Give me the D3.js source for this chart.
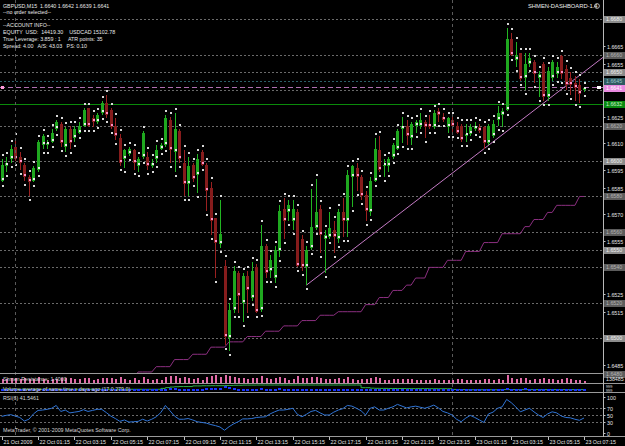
<!DOCTYPE html>
<html><head><meta charset="utf-8">
<script src="https://cdn.jsdelivr.net/npm/d3@7"></script>
<style>html,body{margin:0;padding:0;background:#000;overflow:hidden}svg{display:block}text{font-family:"Liberation Sans",Arial,sans-serif}</style>
</head><body><svg id="c" width="625" height="446"></svg>
<script>
// ---------- DATA ----------
const openP=[1.6589,1.6597,1.6601,1.6608,1.6602,1.6598,1.6591,1.6589,1.6595,1.6609,
1.6609,1.6611,1.6618,1.6621,1.6608,1.6618,1.6613,1.6616,1.6620,1.6630,
1.6624,1.6622,1.6627,1.6633,1.6629,1.6620,1.6613,1.6601,1.6604,1.6606,
1.6597,1.6602,1.6602,1.6597,1.6601,1.6607,1.6609,1.6623,1.6605,1.6617,
1.6599,1.6587,1.6598,1.6592,1.6605,1.6598,1.6585,1.6568,1.6553,1.6541,
1.6500,1.6516,1.6537,1.6520,1.6535,1.6523,1.6540,1.6516,1.6552,1.6538,
1.6534,1.6549,1.6573,1.6571,1.6566,1.6571,1.6556,1.6540,1.6551,1.6562,
1.6573,1.6556,1.6557,1.6561,1.6556,1.6571,1.6566,1.6591,1.6596,1.6591,
1.6581,1.6571,1.6589,1.6606,1.6597,1.6597,1.6602,1.6607,1.6618,1.6620,
1.6613,1.6620,1.6620,1.6622,1.6621,1.6619,1.6628,1.6625,1.6619,1.6623,
1.6620,1.6620,1.6614,1.6615,1.6618,1.6619,1.6619,1.6610,1.6614,1.6623,
1.6626,1.6629,1.6669,1.6657,1.6661,1.6647,1.6655,1.6656,1.6647,1.6655,
1.6636,1.6647,1.6649,1.6659,1.6652,1.6647,1.6644,1.6643,1.6640];
const highP=[1.6601,1.6602,1.6609,1.6613,1.6605,1.6599,1.6592,1.6597,1.6612,1.6615,
1.6612,1.6618,1.6623,1.6622,1.6619,1.6620,1.6620,1.6622,1.6630,1.6630,
1.6626,1.6627,1.6634,1.6637,1.6630,1.6624,1.6615,1.6607,1.6608,1.6607,
1.6602,1.6617,1.6605,1.6601,1.6609,1.6610,1.6626,1.6625,1.6627,1.6618,
1.6606,1.6602,1.6599,1.6604,1.6606,1.6599,1.6588,1.6568,1.6578,1.6544,
1.6520,1.6541,1.6538,1.6537,1.6538,1.6543,1.6542,1.6564,1.6553,1.6547,
1.6552,1.6575,1.6579,1.6578,1.6578,1.6573,1.6558,1.6552,1.6584,1.6590,
1.6575,1.6561,1.6571,1.6566,1.6573,1.6579,1.6595,1.6598,1.6599,1.6592,
1.6583,1.6591,1.6613,1.6614,1.6601,1.6602,1.6610,1.6618,1.6625,1.6623,
1.6622,1.6623,1.6627,1.6623,1.6626,1.6629,1.6630,1.6627,1.6625,1.6625,
1.6622,1.6621,1.6621,1.6621,1.6622,1.6621,1.6620,1.6621,1.6623,1.6631,
1.6630,1.6675,1.6672,1.6667,1.6661,1.6661,1.6661,1.6657,1.6651,1.6656,
1.6653,1.6657,1.6656,1.6660,1.6654,1.6650,1.6648,1.6646,1.6642];
const lowP=[1.6588,1.6594,1.6599,1.6600,1.6595,1.6589,1.6580,1.6588,1.6594,1.6607,
1.6607,1.6610,1.6617,1.6608,1.6605,1.6607,1.6611,1.6615,1.6619,1.6619,
1.6619,1.6621,1.6626,1.6624,1.6618,1.6612,1.6597,1.6596,1.6603,1.6595,
1.6594,1.6601,1.6595,1.6596,1.6599,1.6606,1.6608,1.6599,1.6594,1.6599,
1.6580,1.6580,1.6588,1.6582,1.6597,1.6572,1.6558,1.6534,1.6551,1.6496,
1.6493,1.6514,1.6514,1.6509,1.6514,1.6521,1.6514,1.6515,1.6534,1.6534,
1.6531,1.6546,1.6556,1.6566,1.6561,1.6540,1.6538,1.6530,1.6550,1.6561,
1.6548,1.6537,1.6556,1.6548,1.6554,1.6557,1.6557,1.6574,1.6583,1.6578,
1.6566,1.6569,1.6588,1.6594,1.6591,1.6594,1.6601,1.6606,1.6610,1.6609,
1.6609,1.6616,1.6618,1.6613,1.6618,1.6618,1.6622,1.6622,1.6616,1.6616,
1.6615,1.6611,1.6611,1.6614,1.6617,1.6616,1.6607,1.6609,1.6613,1.6620,
1.6619,1.6628,1.6659,1.6653,1.6645,1.6640,1.6653,1.6644,1.6636,1.6634,
1.6634,1.6645,1.6647,1.6646,1.6640,1.6637,1.6634,1.6633,1.6639];
const closeP=[1.6598,1.6599,1.6607,1.6601,1.6599,1.6591,1.6588,1.6596,1.6611,1.6614,
1.6610,1.6616,1.6622,1.6610,1.6618,1.6610,1.6618,1.6620,1.6629,1.6620,
1.6622,1.6626,1.6633,1.6626,1.6619,1.6614,1.6599,1.6606,1.6607,1.6599,
1.6601,1.6616,1.6597,1.6599,1.6606,1.6609,1.6624,1.6606,1.6618,1.6601,
1.6587,1.6597,1.6590,1.6601,1.6598,1.6583,1.6566,1.6554,1.6559,1.6501,
1.6516,1.6538,1.6524,1.6535,1.6527,1.6538,1.6515,1.6552,1.6537,1.6544,
1.6550,1.6572,1.6566,1.6575,1.6573,1.6541,1.6540,1.6550,1.6563,1.6571,
1.6558,1.6558,1.6562,1.6557,1.6571,1.6566,1.6592,1.6597,1.6591,1.6580,
1.6572,1.6589,1.6607,1.6595,1.6598,1.6601,1.6609,1.6617,1.6620,1.6614,
1.6621,1.6622,1.6623,1.6619,1.6619,1.6627,1.6626,1.6623,1.6624,1.6620,
1.6616,1.6612,1.6615,1.6619,1.6620,1.6617,1.6610,1.6620,1.6621,1.6627,
1.6628,1.6669,1.6660,1.6660,1.6646,1.6655,1.6658,1.6649,1.6649,1.6636,
1.6651,1.6656,1.6653,1.6649,1.6643,1.6643,1.6641,1.6638,1.6641];
const stopLine=[null,null,null,null,null,null,null,null,null,null,
null,null,null,null,null,null,null,null,null,null,
null,null,null,null,null,null,1.6477,1.6477,1.6477,1.6477,
1.6481,1.6481,1.6481,1.6481,1.6484,1.6484,1.6484,1.6484,1.6488,1.6488,
1.6488,1.6488,1.6491,1.6491,1.6491,1.6491,1.6495,1.6495,1.6495,1.6495,
1.6498,1.6498,1.6498,1.6498,1.6501,1.6501,1.6501,1.6501,1.6504,1.6504,
1.6504,1.6504,1.6507,1.6507,1.6507,1.6507,1.6510,1.6510,1.6510,1.6510,
1.6513,1.6513,1.6513,1.6513,1.6515,1.6515,1.6515,1.6515,1.6515,1.6515,
1.6519,1.6519,1.6519,1.6523,1.6523,1.6523,1.6527,1.6527,1.6527,1.6530,
1.6530,1.6534,1.6534,1.6534,1.6540,1.6540,1.6540,1.6540,1.6544,1.6544,
1.6544,1.6544,1.6549,1.6549,1.6549,1.6549,1.6554,1.6554,1.6554,1.6554,
1.6559,1.6559,1.6559,1.6559,1.6559,1.6563,1.6563,1.6567,1.6567,1.6567,
1.6571,1.6571,1.6575,1.6575,1.6575,1.6575,1.6575,1.6580,1.6580];
const trendPts=[[67,1.6530],[132.2,1.66585]];
const rsiVals=[46,49,51,47,43,33,38,53,63,64,66,69,77,60,64,56,58,60,65,60,
63,66,66,57,47,40,32,36,30,31,32,38,33,38,45,57,77,62,47,38,
38,40,36,31,29,27,23,20,16,7,17,25,31,39,39,40,43,44,45,53,
59,64,64,66,69,52,45,52,60,63,56,50,50,58,64,68,77,75,69,62,
50,69,73,64,64,69,73,80,75,70,73,75,72,69,73,78,70,60,56,50,
38,31,41,49,43,36,29,53,58,69,73,94,85,73,59,64,69,59,50,43,
53,59,56,47,43,42,38,35,41.5461];
const resistVals=[4,4,5,5,4,5,4,4,6,4,3,4,4,5,5,5,4,4,5,5,
3,4,5,5,5,4,6,4,3,5,3,6,4,3,4,3,6,7,7,5,
6,5,4,5,3,6,7,8,6,8,7,6,5,5,4,5,5,7,5,4,
5,6,5,3,4,7,5,5,6,6,5,4,4,4,5,4,6,4,3,4,
4,5,6,5,3,3,4,4,4,4,4,3,3,3,3,4,3,3,3,3,
4,4,3,3,3,3,4,4,3,4,3,8,5,4,5,5,3,4,4,5,
4,4,3,4,5,4,3,3,2];
const volAvg=[3.4,3.4,3.4,3.4,3.4,3.4,3.4,3.4,3.4,3.4,3.4,3.4,3.4,3.4,3.4,3.4,3.4,3.4,3.4,3.4,
3.4,3.4,3.4,3.4,3.4,3.4,3.4,3.4,3.4,3.4,3.4,3.4,3.4,3.4,3.4,4.5,5.5,6.2,6.6,6.8,
6.8,6.8,7.6,7.6,7.8,7.8,7.9,7.9,7.9,8.2,8.2,8.4,8.4,8.6,8.6,8.6,8.7,8.7,8.7,8.7,
8.7,8.7,8.7,8.7,8.7,8.7,8.7,8.7,8.7,8.7,8.7,8.7,8.7,8.7,8.7,8.7,8.7,8.7,8.7,5.4,
5.4,4.8,4.6,4.5,4.5,4.4,4.4,4.3,4.3,4.2,4.2,4.2,4.2,4.2,4.1,4.1,4.1,4.1,4.1,3.2,
3.0,3.0,2.8,2.8,2.8,2.8,2.8,2.8,2.8,2.8,3.0,3.0,3.0,3.0,3.0,3.0,3.0,3.0,3.0,3.0,
3.0,3.0,3.0,3.0,3.0,3.0,3.0,3.0,3.0];
const volCur=[2.5,2.5,2.5,2.5,2.5,2.5,2.5,2.5,2.5,2.5,2.5,2.5,2.5,2.5,2.5,2.5,2.5,2.5,2.5,2.5,
2.5,2.5,2.5,2.5,2.5,2.5,2.5,2.5,2.5,2.5,2.5,2.5,2.5,2.5,2.5,3.0,3.0,3.5,3.5,3.0,
3.0,3.0,3.0,3.0,3.0,3.5,3.5,4.0,3.5,6.0,4.5,3.5,3.0,3.0,3.0,3.0,3.0,3.5,3.0,3.0,
3.0,3.5,3.0,3.0,3.0,3.0,3.0,3.0,3.0,3.0,3.0,3.0,3.0,3.0,3.0,3.0,3.0,3.0,3.0,3.0,
2.5,2.5,2.5,2.5,2.5,2.5,2.5,2.5,2.5,2.5,2.5,2.5,2.5,2.5,2.5,2.5,2.5,2.5,2.5,2.5,
2.5,2.5,2.5,2.5,2.5,2.5,2.5,2.5,2.5,2.5,2.5,4.0,3.0,2.5,2.5,3.5,2.5,2.5,2.5,2.5,
2.5,2.5,2.5,2.5,2.5,2.5,2.5,2.5,2.5];
const timeTickBars=[0,8,16,24,32,40,48,56,64,72,80,88,96,104,112,120,128];
const timeTickLabels=["21 Oct 2009","22 Oct 01:15","22 Oct 03:15","22 Oct 05:15","22 Oct 07:15","22 Oct 09:15","22 Oct 11:15","22 Oct 13:15","22 Oct 15:15","22 Oct 17:15","22 Oct 19:15","22 Oct 21:15","22 Oct 23:15","23 Oct 01:15","23 Oct 03:15","23 Oct 05:15","23 Oct 07:15"];
const daySeparatorBars=[3,99];
const priceTicks=[1.6665,1.6655,1.6625,1.6610,1.6595,1.6585,1.6570,1.6555,1.6525,1.6515,1.6485];
const levelPrices=[1.6680,1.6660,1.6650,1.6640,1.6620,1.6600,1.6580,1.6560,1.6550,1.6540,1.6520,1.6500,1.6480];
const levelBright=[1,0,1,0,0,1,0,0,1,0,0,1,0];
const rsiLevels=[70,50,30];
const rsiTicks=[100,70,50,30,0];
const infoLines=["GBPUSD,M15  1.6640 1.6642 1.6639 1.6641","--no order selected--","","--ACCOUNT INFO--","EQUITY  USD:  14419.30    USDCAD 15102.78","True Leverage: 3.859 : 1     ATR points: 35","Spread: 4.00   A/S: 43.03   PS: 0.10"];
const volAxisLabels=["999","999"];
const bidPrice=1.6641, askLine=1.6645, greenLevel=1.6632;

// ---------- SCALES ----------
const svg=d3.select("#c");
const N=openP.length;
const x=d3.scaleLinear().domain([0,128]).range([1.6,584]);
const y=d3.scaleLinear().domain([1.6500,1.6625]).range([338.3,116.7]);
const yR=d3.scaleLinear().domain([0,100]).range([432.7,397.3]);
const yRes=d3.scaleLinear().domain([0,10]).range([383,373.5]);
const yV=d3.scaleLinear().domain([0,10]).range([392,384]);
const AXX=603.5;
svg.append("rect").attr("width",625).attr("height",446).attr("fill","#000");
const defs=svg.append("defs");
defs.append("clipPath").attr("id","mc").append("rect").attr("x",0).attr("y",0).attr("width",603).attr("height",373);
const main=svg.append("g").attr("clip-path","url(#mc)");

// level lines
main.selectAll(".lvl").data(levelPrices).join("line")
 .attr("x1",0).attr("x2",603).attr("y1",d=>Math.round(y(d))+0.5).attr("y2",d=>Math.round(y(d))+0.5)
 .attr("stroke","#6a6a6a").attr("stroke-dasharray","2,2").attr("shape-rendering","crispEdges");
main.append("line").attr("x1",0).attr("x2",603).attr("y1",Math.round(y(askLine))+0.5).attr("y2",Math.round(y(askLine))+0.5)
 .attr("stroke","#2b5f66").attr("stroke-dasharray","2,2").attr("shape-rendering","crispEdges");
main.append("line").attr("x1",0).attr("x2",603).attr("y1",Math.round(y(bidPrice))-0.5).attr("y2",Math.round(y(bidPrice))-0.5)
 .attr("stroke","#b070b0").attr("stroke-width",1).attr("stroke-dasharray","5,3").attr("shape-rendering","crispEdges");
main.append("line").attr("x1",0).attr("x2",603).attr("y1",Math.round(y(greenLevel))+0.5).attr("y2",Math.round(y(greenLevel))+0.5)
 .attr("stroke","#0a8a0a").attr("shape-rendering","crispEdges");
main.append("rect").attr("x",1).attr("y",Math.round(y(bidPrice))-2).attr("width",3).attr("height",3).attr("fill","#ff9ad6");

// day separators (all panels)
svg.selectAll(".sep").data(daySeparatorBars).join("line")
 .attr("x1",d=>Math.round(x(d))+0.5).attr("x2",d=>Math.round(x(d))+0.5).attr("y1",0).attr("y2",437)
 .attr("stroke","#5a5a5a").attr("stroke-dasharray","3,3").attr("shape-rendering","crispEdges");

// step line
const stepLine=d3.line().defined(d=>d!=null).x((d,i)=>x(i)).y(d=>y(d));
main.append("path").attr("d",stepLine(stopLine)).attr("fill","none").attr("stroke","#8c2f80").attr("stroke-width",1);
// trend line
main.append("path").attr("d",d3.line().x(d=>x(d[0])).y(d=>y(d[1]))(trendPts)).attr("fill","none").attr("stroke","#c47ac4").attr("stroke-width",1);

// candles
const idx=d3.range(N);
const cg=main.append("g").attr("shape-rendering","crispEdges");
cg.selectAll(".wick").data(idx).join("line")
 .attr("x1",i=>Math.round(x(i))+0.5).attr("x2",i=>Math.round(x(i))+0.5)
 .attr("y1",i=>y(highP[i])).attr("y2",i=>y(lowP[i]))
 .attr("stroke",i=>closeP[i]>=openP[i]?"#22b522":"#9a2020");
cg.selectAll(".body").data(idx).join("rect")
 .attr("x",i=>Math.round(x(i))-1).attr("width",3)
 .attr("y",i=>y(Math.max(openP[i],closeP[i])))
 .attr("height",i=>Math.max(1,Math.abs(y(openP[i])-y(closeP[i]))))
 .attr("fill",i=>closeP[i]>=openP[i]?"#1fa81f":"#861c1c");
// markers inside bodies
cg.selectAll(".bm").data(idx).join("rect")
 .attr("x",i=>Math.round(x(i))).attr("width",2).attr("height",2)
 .attr("y",i=>y(Math.min(openP[i],closeP[i]))-3)
 .attr("fill",i=>closeP[i]>=openP[i]?"#e8e8e8":"#ff8fc8");
// dots above highs and below lows
cg.selectAll(".dh").data(idx).join("rect")
 .attr("x",i=>Math.round(x(i))).attr("width",2).attr("height",2)
 .attr("y",i=>y(highP[i])-5).attr("fill","#d8d8d8");
cg.selectAll(".dl").data(idx).join("rect")
 .attr("x",i=>Math.round(x(i))).attr("width",2).attr("height",2)
 .attr("y",i=>y(lowP[i])+3).attr("fill","#d8d8d8");

// ---------- SUB PANELS ----------
svg.selectAll(".res").data(idx).join("rect")
 .attr("x",i=>Math.round(x(i))-0.5).attr("width",2)
 .attr("y",i=>yRes(resistVals[i])).attr("height",i=>383-yRes(resistVals[i]))
 .attr("fill","#e06aa6").attr("shape-rendering","crispEdges");
svg.append("path").attr("d",d3.line().x((d,i)=>x(i)).y(d=>yV(d)).curve(d3.curveStepAfter)(volAvg))
 .attr("fill","none").attr("stroke","#2fae4a").attr("stroke-width",1);
svg.selectAll(".vc").data(idx).join("rect")
 .attr("x",i=>Math.round(x(i))-1).attr("width",3)
 .attr("y",i=>yV(volCur[i])-1).attr("height",2).attr("fill","#1834ff").attr("shape-rendering","crispEdges");
svg.selectAll(".rl").data(rsiLevels).join("line")
 .attr("x1",0).attr("x2",603).attr("y1",d=>Math.round(yR(d))+0.5).attr("y2",d=>Math.round(yR(d))+0.5)
 .attr("stroke","#6a6a6a").attr("stroke-dasharray","2,2").attr("shape-rendering","crispEdges");
svg.append("path").attr("d",d3.line().x((d,i)=>x(i)).y(d=>yR(d))(rsiVals))
 .attr("fill","none").attr("stroke","#2f74d6").attr("stroke-width",1);

// panel separators
[373.5,383.5,392.5,436.5].forEach(v=>{
 svg.append("line").attr("x1",0).attr("x2",625).attr("y1",v).attr("y2",v).attr("stroke","#9a9a9a").attr("shape-rendering","crispEdges");
});
svg.append("line").attr("x1",AXX).attr("x2",AXX).attr("y1",0).attr("y2",437).attr("stroke","#b8b8b8").attr("shape-rendering","crispEdges");

// ---------- AXES ----------
const fs=5.3;
const pa=svg.append("g");
priceTicks.forEach(p=>{
 const yy=Math.round(y(p))+0.5;
 pa.append("line").attr("x1",AXX).attr("x2",AXX+2).attr("y1",yy).attr("y2",yy).attr("stroke","#c0c0c0");
 pa.append("text").attr("x",607).attr("y",yy+2).attr("font-size",fs).attr("fill","#e6e6e6").text(p.toFixed(4));
});
levelPrices.forEach((p,k)=>{
 if(p===1.6640) return;
 const yy=Math.round(y(p));
 pa.append("rect").attr("x",604).attr("y",yy-3).attr("width",21).attr("height",7).attr("fill",levelBright[k]?"#8c8c8c":"#5c5c5c");
 pa.append("text").attr("x",606).attr("y",yy+2).attr("font-size",fs).attr("fill",levelBright[k]?"#f2f2f2":"#b4b4b4").text(p.toFixed(4));
});
[[askLine,"#2e5960","#9fc8cc"],[bidPrice,"#e98ae0","#ffffff"],[greenLevel,"#0b8a12","#c8f0c8"]].forEach(([p,bg,fg])=>{
 const yy=Math.round(y(p));
 pa.append("rect").attr("x",604).attr("y",yy-3).attr("width",21).attr("height",7).attr("fill",bg);
 pa.append("text").attr("x",606).attr("y",yy+2).attr("font-size",fs).attr("fill",fg).text(p.toFixed(4));
});
pa.append("rect").attr("x",597).attr("y",Math.round(y(bidPrice))-2).attr("width",4).attr("height",3).attr("fill","#ffffff");
rsiTicks.forEach(v=>{
 const yy=Math.round(yR(v))+0.5;
 pa.append("line").attr("x1",AXX).attr("x2",AXX+2).attr("y1",yy).attr("y2",yy).attr("stroke","#c0c0c0");
 pa.append("text").attr("x",607).attr("y",yy+2).attr("font-size",fs).attr("fill","#e6e6e6").text(v);
});
pa.append("text").attr("x",606).attr("y",380.5).attr("font-size",fs).attr("fill","#e6e6e6").text("138485");
pa.append("text").attr("x",606).attr("y",387.6).attr("font-size",3.8).attr("fill","#e6e6e6").text(volAxisLabels[0]);
pa.append("text").attr("x",606).attr("y",391.9).attr("font-size",3.8).attr("fill","#e6e6e6").text(volAxisLabels[1]);

timeTickBars.forEach((b,k)=>{
 const xx=Math.round(x(b))+0.5;
 svg.append("line").attr("x1",xx).attr("x2",xx).attr("y1",437).attr("y2",440).attr("stroke","#c0c0c0");
 svg.append("text").attr("x",xx+1).attr("y",444).attr("font-size",fs).attr("fill","#e6e6e6").text(timeTickLabels[k]);
});

// ---------- TEXTS ----------
const lineY=[7.5,14,20.5,27,34,40.5,47.5];
infoLines.forEach((t,k)=>{ if(t) svg.append("text").attr("x",3).attr("y",lineY[k]).attr("font-size",fs).attr("fill","#e8e8e8").style("white-space","pre").text(t); });
svg.append("text").attr("x",528).attr("y",8).attr("font-size",5.8).attr("fill","#ededed").text("SHMEN-DASHBOARD-1.4");
svg.append("circle").attr("cx",597).attr("cy",6).attr("r",2.4).attr("fill","none").attr("stroke","#dcdcdc").attr("stroke-width",0.8);
svg.append("text").attr("x",3).attr("y",380.5).attr("font-size",fs).attr("fill","#d8d8d8").text("Shmen Resistance: 1.4000");
svg.append("text").attr("x",3).attr("y",390.5).attr("font-size",fs).attr("fill","#d8d8d8").text("Volume average of same time x days ago (17.0 279.0)");
svg.append("text").attr("x",3).attr("y",399.5).attr("font-size",fs).attr("fill","#d8d8d8").text("RSI(6) 41.5461");
svg.append("text").attr("x",3).attr("y",432).attr("font-size",fs).attr("fill","#d8d8d8").text("MetaTrader, © 2001-2009 MetaQuotes Software Corp.");
</script></body></html>
